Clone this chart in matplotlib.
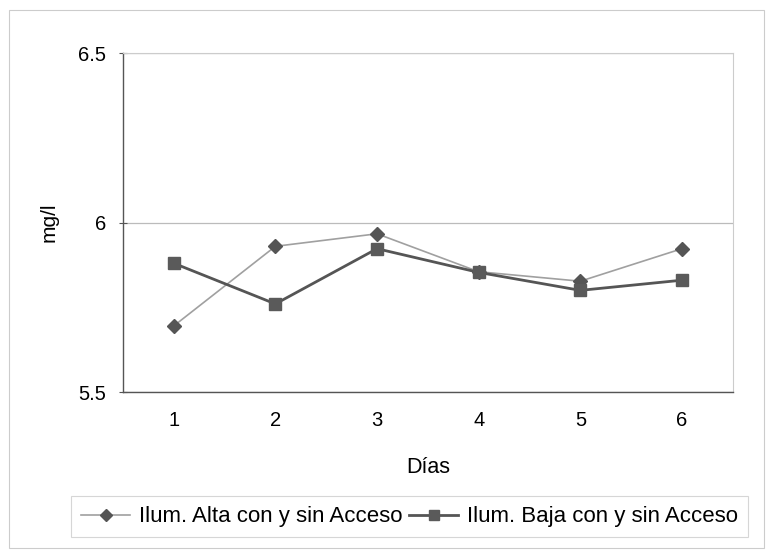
import matplotlib.pyplot as plt
from matplotlib.patches import Rectangle

# datos
dias = [1, 2, 3, 4, 5, 6]
alta = [5.695, 5.930, 5.967, 5.855, 5.827, 5.923]
baja = [5.880, 5.760, 5.923, 5.853, 5.800, 5.830]
etiquetas = ['Ilum. Alta con y sin Acceso', 'Ilum. Baja con y sin Acceso']

plt.rcParams['font.family'] = ['Liberation Sans', 'DejaVu Sans']

fig = plt.figure(figsize=(7.73, 5.6), dpi=100)
ax = fig.add_axes([0.159, 0.300, 0.789, 0.605])

ax.plot(dias, alta, color='#a0a0a0', lw=1.2, marker='D', ms=7,
        mfc='#555555', mec='#555555', label=etiquetas[0], zorder=3)
ax.plot(dias, baja, color='#555555', lw=2.0, marker='s', ms=9,
        mfc='#5a5a5a', mec='#5a5a5a', label=etiquetas[1], zorder=3)

ax.set_xlim(0.5, 6.5)
ax.set_ylim(5.5, 6.5)
ax.set_xticks(dias)
ax.set_yticks([5.5, 6.0, 6.5])
ax.set_yticklabels(['5.5', '6', '6.5'])
ax.tick_params(axis='x', length=0, pad=14, labelsize=14.5)
ax.tick_params(axis='y', length=6, direction='inout', pad=9, labelsize=14.5, color='#555555')
ax.yaxis.grid(True, color='#bbbbbb', lw=0.9)
ax.set_axisbelow(True)

for s in ['top', 'right']:
    ax.spines[s].set_color('#cccccc')
    ax.spines[s].set_linewidth(0.8)
for s in ['left', 'bottom']:
    ax.spines[s].set_color('#555555')
    ax.spines[s].set_linewidth(1.0)

ax.set_xlabel('Días', fontsize=15.5, labelpad=19)
ax.set_ylabel('mg/l', fontsize=15, labelpad=14)

leg = fig.legend(loc='center', bbox_to_anchor=(0.530, 0.077), ncol=2,
                 fontsize=16, frameon=True, fancybox=False, handlelength=2.2,
                 handletextpad=0.4, columnspacing=0.3, borderpad=0.45,
                 borderaxespad=0, markerscale=0.85)
leg.get_frame().set_edgecolor('#cccccc')
leg.get_frame().set_linewidth(0.8)

# marco exterior del grafico
fig.patches.append(Rectangle((0.012, 0.022), 0.976, 0.960, transform=fig.transFigure,
                             fill=False, edgecolor='#cccccc', lw=0.8))

fig.savefig('out.png', dpi=100)
